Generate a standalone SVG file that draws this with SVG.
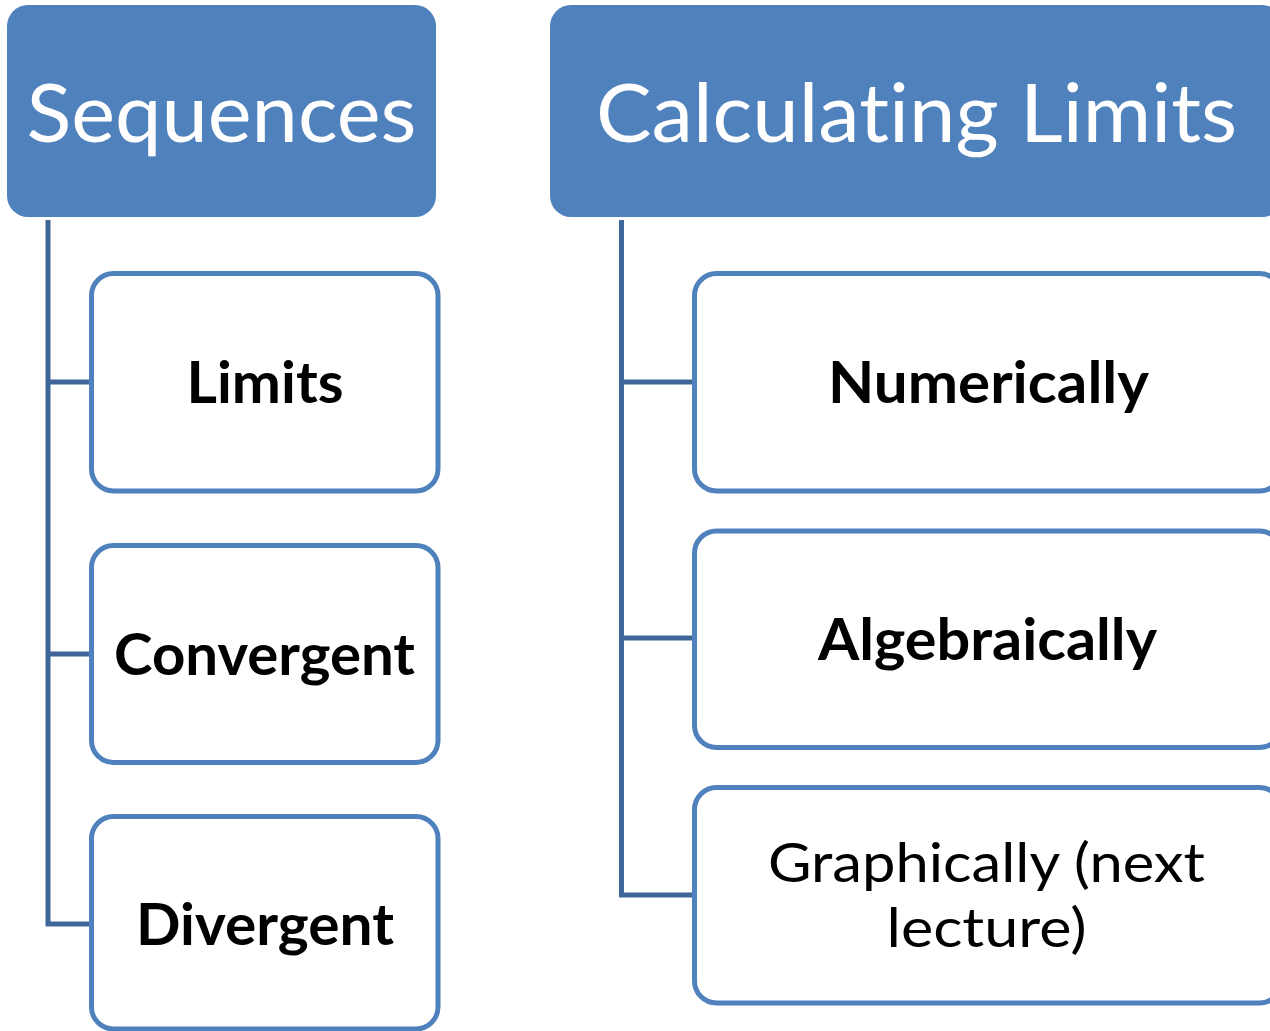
<svg xmlns="http://www.w3.org/2000/svg" width="1270" height="1031" viewBox="0 0 1270 1031">
  <style>
    .head { fill: #4F81BD; }
    .child { fill: #FFFFFF; stroke: #4F81BD; stroke-width: 5; }
    .conn { fill: none; stroke: #3F6699; stroke-width: 5; stroke-linecap: butt; }
    text { font-family: "Lato", "Liberation Sans", sans-serif; text-anchor: middle; font-variant-ligatures: none; font-feature-settings: "liga" 0, "clig" 0; }
    .ht { fill: #FFFFFF; font-size: 82px; }
    .bt { fill: #000000; font-size: 57px; font-weight: 700; }
    .rt { fill: #000000; font-size: 55px; }
  </style>
  <rect width="1270" height="1031" fill="#FFFFFF"/>

  <!-- connectors -->
  <g id="connectors">
    <path class="conn" d="M48,220 V926.5 M48,382 H90 M48,654 H90 M45.5,924 H90"/>
    <path class="conn" d="M621.5,220 V897.5 M621.5,382 H693 M621.5,638 H693 M619,895 H693"/>
  </g>

  <!-- left column -->
  <g id="sequences">
    <rect class="head" x="7" y="5" width="429" height="212" rx="21"/>
    <text class="ht" x="221.5" y="142" textLength="390" lengthAdjust="spacingAndGlyphs">Sequences</text>
  </g>
  <g id="limits">
    <rect class="child" x="91.5" y="273.5" width="346.5" height="217.5" rx="22"/>
    <text class="bt" x="265" y="403" textLength="157" lengthAdjust="spacingAndGlyphs">Limits</text>
  </g>
  <g id="convergent">
    <rect class="child" x="91.5" y="545.5" width="346.5" height="217" rx="22"/>
    <text class="bt" x="264.5" y="675" textLength="301" lengthAdjust="spacingAndGlyphs">Convergent</text>
  </g>
  <g id="divergent">
    <rect class="child" x="91.5" y="816.5" width="346.5" height="212.5" rx="22"/>
    <text class="bt" x="265" y="945" textLength="258" lengthAdjust="spacingAndGlyphs">Divergent</text>
  </g>

  <!-- right column -->
  <g id="calculating-limits">
    <rect class="head" x="550" y="5" width="733" height="212" rx="21"/>
    <text class="ht" x="916.5" y="142" textLength="641" lengthAdjust="spacingAndGlyphs">Calculating Limits</text>
  </g>
  <g id="numerically">
    <rect class="child" x="694.5" y="273.5" width="587" height="217.5" rx="22"/>
    <text class="bt" x="988.5" y="403" textLength="321" lengthAdjust="spacingAndGlyphs">Numerically</text>
  </g>
  <g id="algebraically">
    <rect class="child" x="694.5" y="531" width="587" height="216.5" rx="22"/>
    <text class="bt" x="987.5" y="660" textLength="339" lengthAdjust="spacingAndGlyphs">Algebraically</text>
  </g>
  <g id="graphically">
    <rect class="child" x="694.5" y="787.5" width="587" height="215.5" rx="22"/>
    <text class="rt" x="986.5" y="882" textLength="437" lengthAdjust="spacingAndGlyphs">Graphically (next</text>
    <text class="rt" x="986.5" y="947" textLength="200" lengthAdjust="spacingAndGlyphs">lecture)</text>
  </g>
</svg>
